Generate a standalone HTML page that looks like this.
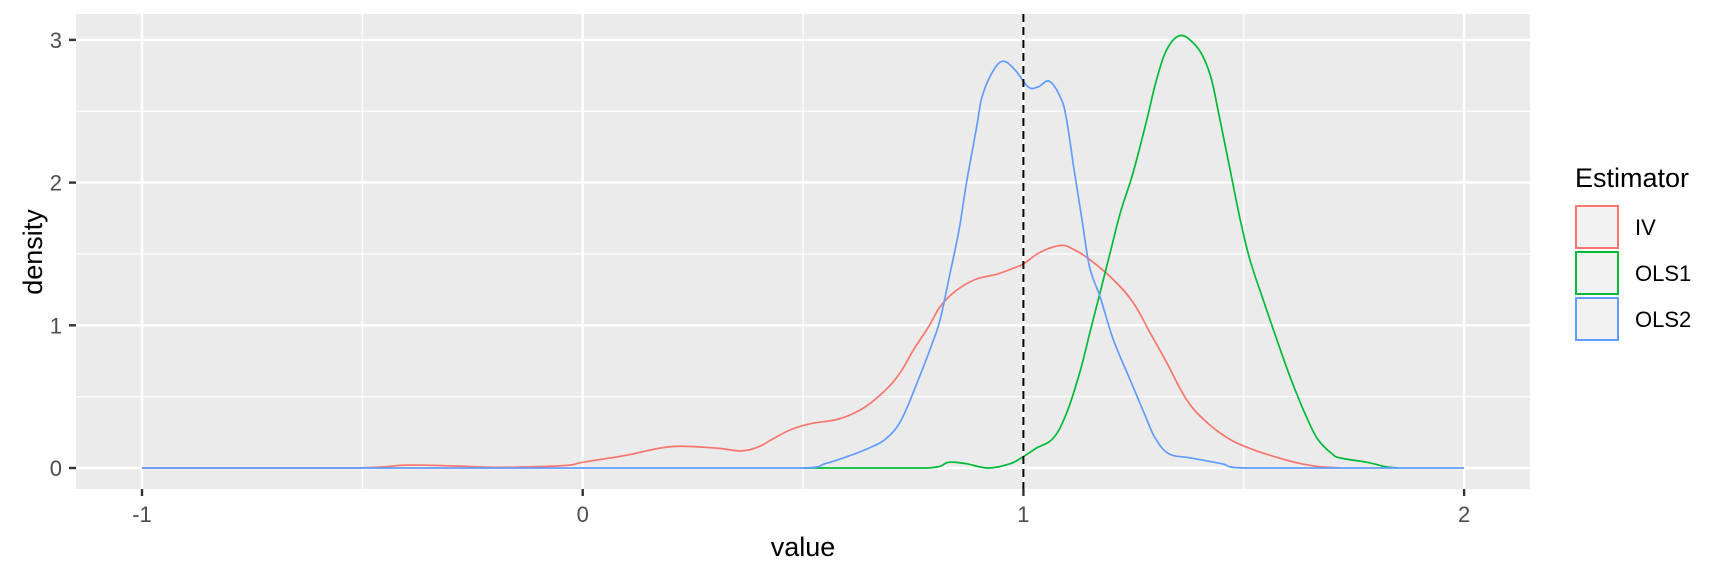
<!DOCTYPE html>
<html><head><meta charset="utf-8"><style>
html,body{margin:0;padding:0;background:#fff;}
svg{display:block;font-family:"Liberation Sans",Arial,sans-serif;}
</style></head><body>
<svg id="chart" width="1728" height="576" viewBox="0 0 1728 576">
<rect x="76" y="14" width="1454" height="475" fill="#EBEBEB"/>
<g id="grid"></g>
<g id="curves"></g>
<g id="axes"></g>
<text x="803" y="556" font-size="27" text-anchor="middle" fill="#000">value</text>
<text transform="translate(42,252) rotate(-90)" font-size="27" text-anchor="middle" fill="#000">density</text>
<g>
<text x="1575" y="187" font-size="27" fill="#000">Estimator</text>
<g>
<rect x="1576" y="206" width="42" height="42" fill="#F2F2F2" stroke="#F8766D" stroke-width="2"/>
<text x="1635" y="235" font-size="22" fill="#000">IV</text></g>
<g>
<rect x="1576" y="252" width="42" height="42" fill="#F2F2F2" stroke="#00BA38" stroke-width="2"/>
<text x="1635" y="281" font-size="22" fill="#000">OLS1</text></g>
<g>
<rect x="1576" y="298" width="42" height="42" fill="#F2F2F2" stroke="#619CFF" stroke-width="2"/>
<text x="1635" y="327" font-size="22" fill="#000">OLS2</text></g>
</g>
</svg>
<script>
const xTicks = [-1, 0, 1, 2];
const xTickLabels = ["-1", "0", "1", "2"];
const yTicks = [0, 1, 2, 3];
const yTickLabels = ["0", "1", "2", "3"];
const xMinor = [-0.5, 0.5, 1.5];
const yMinor = [0.5, 1.5, 2.5];
const refLine = 1;
const ivX = [-1,-0.53,-0.4,-0.3,-0.2,-0.1,-0.03,0,0.1,0.2,0.3,0.36,0.4,0.429,0.473,0.516,0.577,0.62,0.655,0.698,0.725,0.751,0.785,0.811,0.846,0.89,0.942,0.977,1.0,1.037,1.085,1.115,1.151,1.204,1.249,1.287,1.325,1.37,1.416,1.469,1.52,1.58,1.63,1.67,1.72];
const ivY = [0,0,0.02,0.015,0.005,0.01,0.02,0.04,0.09,0.15,0.14,0.12,0.15,0.20,0.27,0.31,0.34,0.39,0.46,0.58,0.69,0.83,0.99,1.13,1.24,1.32,1.36,1.40,1.43,1.51,1.56,1.53,1.46,1.32,1.16,0.95,0.74,0.48,0.32,0.20,0.13,0.07,0.03,0.01,0];
const ols1X = [0.5,0.78,0.83,0.87,0.92,0.97,1.0,1.03,1.068,1.098,1.128,1.151,1.174,1.197,1.22,1.249,1.28,1.302,1.325,1.355,1.385,1.408,1.427,1.446,1.469,1.492,1.514,1.544,1.575,1.605,1.635,1.666,1.7,1.72,1.78,1.82,1.85];
const ols1Y = [0,0,0.04,0.03,0,0.03,0.08,0.14,0.21,0.385,0.67,0.95,1.23,1.51,1.79,2.07,2.44,2.72,2.93,3.03,2.98,2.88,2.72,2.44,2.09,1.74,1.46,1.18,0.90,0.64,0.41,0.21,0.1,0.07,0.04,0.01,0];
const ols2X = [-1,0.5,0.55,0.6,0.65,0.69,0.725,0.768,0.794,0.811,0.834,0.854,0.872,0.894,0.906,0.929,0.953,0.981,1.011,1.033,1.059,1.085,1.098,1.115,1.133,1.15,1.174,1.204,1.242,1.28,1.299,1.33,1.38,1.45,1.5,2];
const ols2Y = [0,0,0.03,0.08,0.14,0.21,0.35,0.67,0.88,1.04,1.37,1.67,2.02,2.39,2.60,2.77,2.85,2.79,2.67,2.67,2.71,2.59,2.44,2.09,1.74,1.41,1.20,0.90,0.62,0.34,0.21,0.1,0.07,0.03,0,0];

const NS = "http://www.w3.org/2000/svg";
const X0 = 582.7, XS = 440.7, Y0 = 468, YS = 142.7;
const PL = 76, PR = 1530, PT = 14, PB = 489;
function sx(v){ return X0 + v * XS; }
function sy(v){ return Y0 - v * YS; }
function mk(tag, attrs, parent){ const e = document.createElementNS(NS, tag); for (const k in attrs) e.setAttribute(k, attrs[k]); parent.appendChild(e); return e; }
const grid = document.getElementById('grid');
const axes = document.getElementById('axes');
const curves = document.getElementById('curves');
xMinor.forEach(v => {
  const l = mk('line', {x1: sx(v), x2: sx(v), y1: PT, y2: PB, stroke: '#fff', 'stroke-width': 1.2}, grid);
  
  
});
yMinor.forEach(v => {
  const l = mk('line', {x1: PL, x2: PR, y1: sy(v), y2: sy(v), stroke: '#fff', 'stroke-width': 1.2}, grid);
  
  
});
xTicks.forEach((v, i) => {
  const l = mk('line', {x1: sx(v), x2: sx(v), y1: PT, y2: PB, stroke: '#fff', 'stroke-width': 2.4}, grid);
  
  
  const t = mk('line', {x1: sx(v), x2: sx(v), y1: PB, y2: PB + 7, stroke: '#333', 'stroke-width': 2.4}, axes);
  
  
  const tx = mk('text', {x: sx(v), y: 522, 'font-size': 22, 'text-anchor': 'middle', fill: '#4D4D4D'}, axes);
  tx.textContent = xTickLabels[i];
  
  
});
yTicks.forEach((v, i) => {
  const l = mk('line', {x1: PL, x2: PR, y1: sy(v), y2: sy(v), stroke: '#fff', 'stroke-width': 2.4}, grid);
  
  
  const t = mk('line', {x1: PL - 7, x2: PL, y1: sy(v), y2: sy(v), stroke: '#333', 'stroke-width': 2.4}, axes);
  
  
  const tx = mk('text', {x: 62, y: sy(v) + 8, 'font-size': 22, 'text-anchor': 'end', fill: '#4D4D4D'}, axes);
  tx.textContent = yTickLabels[i];
  
  
});
function drawCurve(xs, ys, color, name){
  const pts = xs.map((v, i) => [sx(v), sy(ys[i])]);
  let d = 'M' + pts[0][0].toFixed(1) + ',' + pts[0][1].toFixed(1);
  for (let i = 0; i < pts.length - 1; i++) {
    const p0 = pts[Math.max(0, i - 1)], p1 = pts[i], p2 = pts[i + 1], p3 = pts[Math.min(pts.length - 1, i + 2)];
    const t = 0.18;
    let c1x = p1[0] + (p2[0] - p0[0]) * t, c1y = p1[1] + (p2[1] - p0[1]) * t;
    let c2x = p2[0] - (p3[0] - p1[0]) * t, c2y = p2[1] - (p3[1] - p1[1]) * t;
    c1x = Math.min(Math.max(c1x, p1[0]), p2[0]); c2x = Math.min(Math.max(c2x, p1[0]), p2[0]);
    c1y = Math.min(c1y, Y0); c2y = Math.min(c2y, Y0);
    d += ' C' + c1x.toFixed(1) + ',' + c1y.toFixed(1) + ' ' + c2x.toFixed(1) + ',' + c2y.toFixed(1) + ' ' + p2[0].toFixed(1) + ',' + p2[1].toFixed(1);
  }
  const p = mk('path', {d: d, fill: 'none', stroke: color, 'stroke-width': 1.7, 'stroke-linejoin': 'round'}, curves);
  
  
}
drawCurve(ivX, ivY, '#F8766D', 'iv-density-curve');
drawCurve(ols1X, ols1Y, '#00BA38', 'ols1-density-curve');
drawCurve(ols2X, ols2Y, '#619CFF', 'ols2-density-curve');
const ref = mk('line', {x1: sx(refLine), x2: sx(refLine), y1: PT, y2: PB, stroke: '#000', 'stroke-width': 2, 'stroke-dasharray': '8,5'}, curves);


</script>
</body></html>
